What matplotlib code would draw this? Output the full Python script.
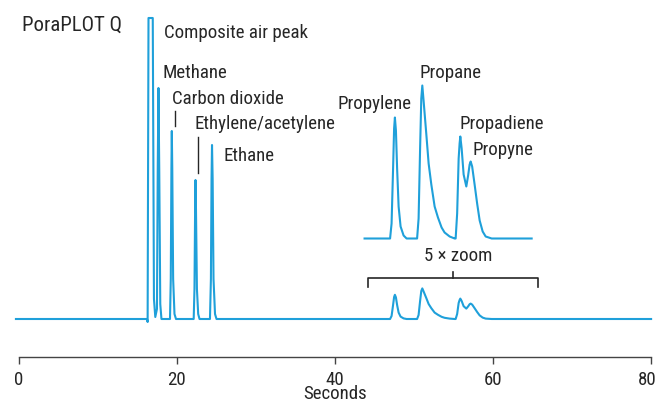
import matplotlib
matplotlib.use("Agg")
import matplotlib.pyplot as plt
from matplotlib import font_manager
from matplotlib.transforms import ScaledTranslation
import numpy as np

# Chromatogram trace: retention time (s) and
# detector signal (arbitrary units, baseline = 0).
# Light gases: air (clipped), methane, CO2, ethylene/acetylene, ethane
light_time = [-0.35, 16.24, 16.32, 16.43, 16.97, 17.12, 17.29,
              17.50, 17.60, 17.69, 17.79, 17.92, 18.07,
              19.15, 19.25, 19.33, 19.38, 19.44, 19.55, 19.72, 19.91,
              22.15, 22.25, 22.33, 22.38, 22.44, 22.56, 22.72, 22.89,
              24.21, 24.33, 24.41, 24.47, 24.55, 24.66, 24.85, 25.04,
              43.78]
light_signal = [0, 0, -3, 301, 301, 20, 2,
                10, 150, 231, 150, 15, 0,
                0, 40, 150, 188, 150, 40, 5, 0,
                0, 30, 110, 139, 110, 30, 5, 0,
                0, 40, 140, 174, 140, 40, 5, 0,
                0]

# C3 group: propylene, propane, propadiene + propyne
c3_time = [47.01, 47.20, 47.39, 47.52, 47.62, 47.75, 47.90, 48.09, 48.34, 48.72, 49.10,
           50.43, 50.62, 50.81, 50.96, 51.09, 51.25, 51.60, 51.89, 52.23, 52.65,
           53.07, 53.53, 53.91, 54.55, 55.18,
           55.31, 55.50, 55.69, 55.81, 55.90, 56.07, 56.32, 56.66, 56.89, 57.08,
           57.21, 57.40, 57.71, 58.03, 58.35, 58.73, 59.11, 59.87,
           64.93, 80.05]
c3_signal = [0, 3, 14, 22, 24.2, 21.6, 14, 6.4, 2.4, 0.6, 0,
             0, 4, 18, 28, 30.6, 27.6, 20.8, 15, 10.8, 6.4,
             4.2, 2.2, 1.2, 0.4, 0,
             0, 5, 16, 19, 20.4, 18, 12.8, 10.4, 12.6, 14.8,
             15.4, 14.4, 10.8, 7, 3.6, 1.4, 0.4, 0,
             0, 0]

zoom_window = (43.78, 64.93)
zoom_factor = 5
zoom_offset = 80.5

x_ticks = [0, 20, 40, 60, 80]

line_color = "#1fa0da"
text_color = "#262626"


def pick_font():
    # the original uses a condensed face; take one if the machine has it
    fonts = font_manager.fontManager.ttflist
    for name in ["Liberation Sans Narrow", "Roboto Condensed", "Open Sans Condensed",
                 "Noto Sans Condensed", "DejaVu Sans Condensed"]:
        if any(f.name == name for f in fonts):
            return name, "normal", 13.6
    for name in ["Roboto", "Noto Sans", "Open Sans", "DejaVu Sans", "Liberation Sans"]:
        for f in fonts:
            if f.name == name and f.weight in (400, "normal", "regular") and \
                    str(f.stretch) in ("condensed", "semi-condensed", "extra-condensed"):
                return name, str(f.stretch), 13.6
    return "Roboto", "normal", 12.0


font_name, font_stretch, font_size = pick_font()
plt.rcParams["font.family"] = [font_name, "DejaVu Sans"]
plt.rcParams["font.stretch"] = font_stretch
plt.rcParams["font.size"] = font_size

t = np.array(light_time + c3_time)
s = np.array(light_signal + c3_signal)

fig = plt.figure(figsize=(6.58, 4.02), dpi=100)
ax = fig.add_axes([18.7 / 658, 1 - 358.3 / 402, 632.0 / 658, 358.3 / 402])

ax.plot(t, s, color=line_color, lw=1.5, clip_on=False, solid_joinstyle="round")

# 5x zoomed copy of the C3 region
mask = (t >= zoom_window[0]) & (t <= zoom_window[1])
ax.plot(t[mask], s[mask] * zoom_factor + zoom_offset, color=line_color, lw=1.5,
        solid_joinstyle="round")

ax.set_xlim(0, 80)
ax.set_ylim(-38.3, 320)
ax.set_xticks(x_ticks)
ax.set_xticklabels([str(v) for v in x_ticks])
ax.set_yticks([])
for side in ["left", "right", "top"]:
    ax.spines[side].set_visible(False)
ax.spines["bottom"].set_color("#444444")
ax.spines["bottom"].set_linewidth(1.0)
ax.tick_params(axis="x", direction="out", length=5, width=1.0, color="#444444",
               labelcolor=text_color, pad=4, labelsize=font_size)
ax.set_xlabel("Seconds", color=text_color, labelpad=-3)

# keep the last tick label inside the canvas
last = ax.get_xticklabels()[-1]
last.set_transform(last.get_transform() + ScaledTranslation(-3 / 100, 0, fig.dpi_scale_trans))

ax.text(0.42, 295, "PoraPLOT Q", ha="left", va="center", color=text_color,
        fontsize=font_size * 1.1)

labels = [
    ("Composite air peak", 18.45, 287),
    ("Methane", 18.15, 247),
    ("Carbon dioxide", 19.37, 221),
    ("Ethylene/acetylene", 22.23, 196),
    ("Ethane", 25.90, 164),
    ("Propylene", 40.33, 216),
    ("Propane", 50.70, 247),
    ("Propadiene", 55.86, 196),
    ("Propyne", 57.47, 170),
]
for txt, x, y in labels:
    ax.text(x, y, txt, ha="left", va="center", color=text_color)

# leader lines
ax.plot([19.78, 19.78], [208, 193], color=text_color, lw=1.0)
ax.plot([22.73, 22.73], [182, 146], color=text_color, lw=1.0)

# bracket for the zoomed region
ax.text(55.60, 63.5, "5 \u00d7 zoom", ha="center", va="center", color=text_color)
ax.plot([44.18, 44.18, 65.77, 65.77], [32, 40.7, 40.7, 32], color=text_color, lw=1.2)
ax.plot([55.0, 55.0], [40.7, 46.7], color=text_color, lw=1.2)

fig.savefig("out.png", dpi=100)
